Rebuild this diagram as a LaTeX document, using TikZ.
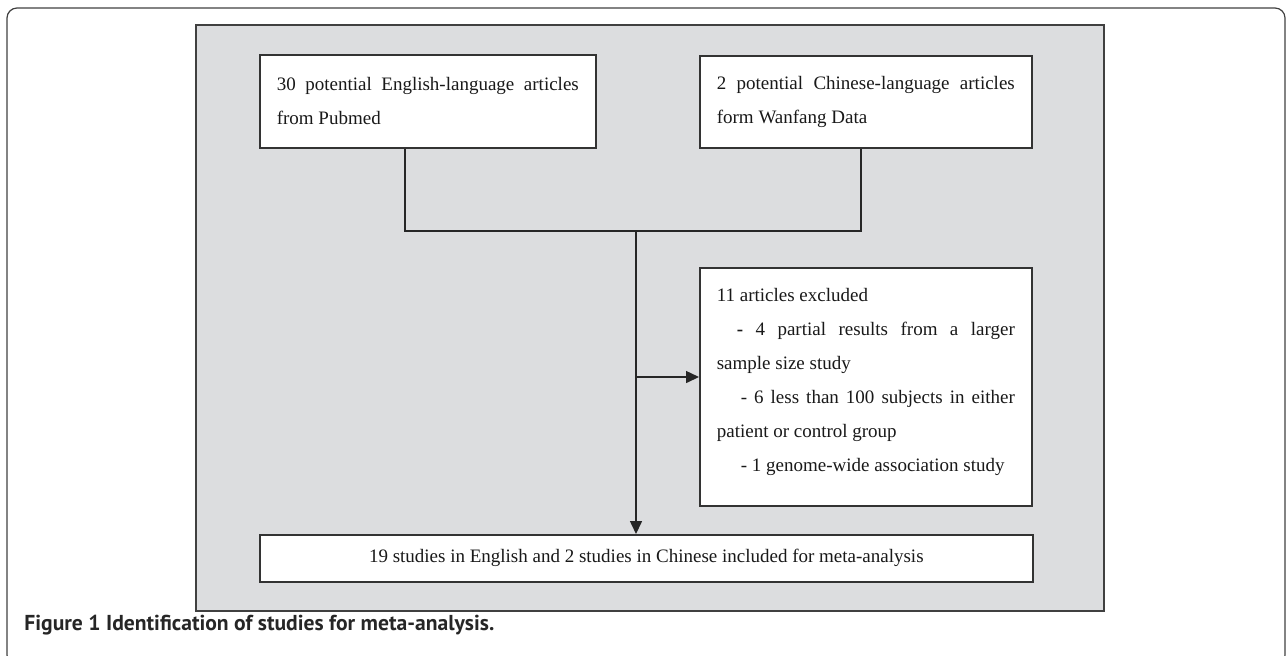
\documentclass[tikz,border=0pt]{standalone}
\usepackage{fontspec}
\setmainfont{Liberation Serif}
\newfontfamily\capfont{PT Sans}
\usetikzlibrary{arrows.meta,positioning}
\tikzset{>/.tip={Triangle[length=6.5pt,width=6pt]}}
\tikzset{studybox/.style={draw=black!80,line width=0.8pt,fill=white,anchor=north west,
    inner xsep=8pt,inner ysep=0pt,text=black!90,font=\fontsize{9.5}{17}\selectfont}}
\tikzset{link/.style={draw=black!85,line width=0.75pt}}
\definecolor{panelgray}{HTML}{DCDDDF}

\begin{document}
\begin{tikzpicture}[x=0.5pt,y=-0.5pt]
        \useasboundingbox (0,0) rectangle (1288,655);
        \draw[black!75,line width=0.6pt,rounded corners=5pt] (7,8) rectangle (1285,665);
        \node(caption)[anchor=base west,inner sep=0pt,text=black!85,font=\capfont\bfseries\fontsize{10.8}{12}\selectfont]
          at (24,630) {Figure 1 Identification of studies for meta-analysis.};
        \filldraw[fill=panelgray,draw=black!75,line width=0.8pt] (196,25) rectangle (1104,611);
        \node(eng)[studybox,minimum width=168pt,minimum height=46.5pt,text width=151pt,align=justify]
          at (259,54) {30 potential English-language articles\linebreak from Pubmed};
        \node(chn)[studybox,minimum width=166pt,minimum height=46pt,text width=149pt,align=justify]
          at (699,55) {2 potential Chinese-language articles\linebreak form Wanfang Data};
        \node(excl)[studybox,minimum width=166pt,minimum height=119pt,text width=149pt,align=justify]
          at (699,267) {11 articles excluded\\
          \hspace*{10pt}\textbf{-} 4 partial results from a larger\linebreak sample size study\\
          \hspace*{12pt}- 6 less than 100 subjects in either\linebreak patient or control group\\
          \hspace*{12pt}- 1 genome-wide association study\\[-10pt]};
        \node(incl)[studybox,minimum width=386.5pt,minimum height=23.5pt,align=center]
          at (259,534) {19 studies in English and 2 studies in Chinese included for meta-analysis};
        \path (eng.south west) ++(146,0) coordinate (engfoot);
        \path (chn.south west) ++(162,0) coordinate (chnfoot);
        \coordinate (fork) at (636,231);
        \coordinate (branch) at (636,377);
        \draw[link] (engfoot) |- (fork) -| (chnfoot);
        \draw[link,->] (fork) -- (fork |- incl.north);
        \draw[link,->] (branch) -- (branch -| excl.west);
      \end{tikzpicture}
\end{document}
